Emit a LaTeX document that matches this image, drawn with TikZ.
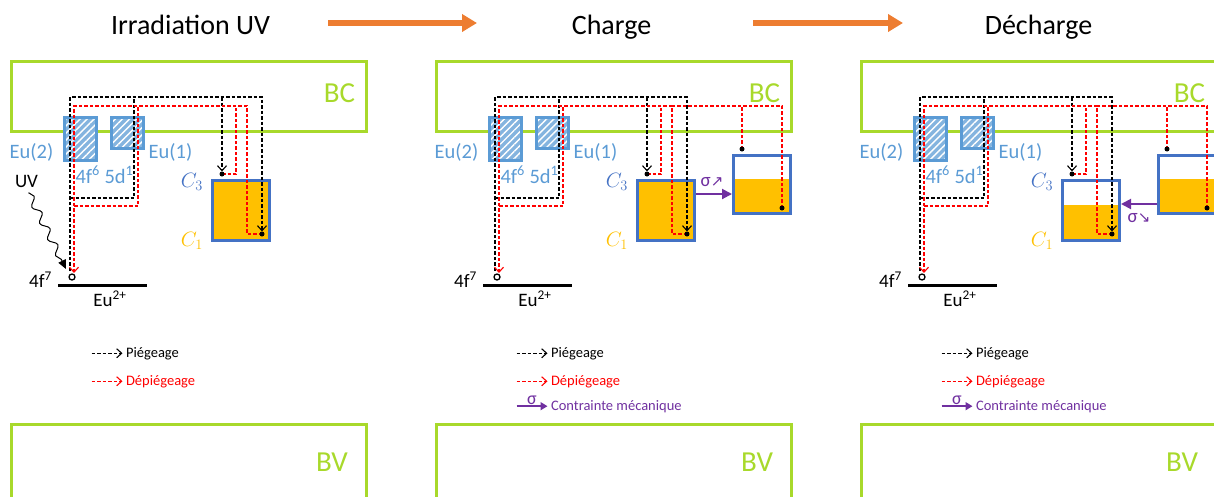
\documentclass[tikz,border=0pt]{standalone}
\usepackage{fontspec}
\setmainfont{Carlito}
\newfontfamily\dejavu{DejaVu Sans}
\usepackage{tikz}
\usetikzlibrary{arrows.meta, calc, patterns.meta, decorations.pathmorphing}

\definecolor{bandgreen}{HTML}{A8D92B}
\definecolor{eublue}{HTML}{5B9BD5}
\definecolor{trapblue}{HTML}{4472C4}
\definecolor{trapfill}{HTML}{FFC000}
\definecolor{stresspurple}{HTML}{7030A0}
\definecolor{steporange}{HTML}{ED7D31}

\tikzset{
  title/.style={anchor=base, font=\fontsize{28}{30}\selectfont},
  band/.style={draw=bandgreen, line width=3pt},
  bandtext/.style={anchor=base, text=bandgreen, font=\fontsize{29}{30}\selectfont},
  eubox/.style={draw=eublue, line width=3pt, preaction={fill=eublue!75},
    pattern={Lines[angle=45, distance=5pt, line width=1.4pt]}, pattern color=white},
  eutext/.style={anchor=base, text=eublue, font=\fontsize{20.5}{22}\selectfont},
  leveltext/.style={anchor=base, font=\fontsize{19}{21}\selectfont},
  trap/.style={draw=trapblue, line width=3pt, minimum width=57pt,
    minimum height=60pt, inner sep=0pt},
  traptext/.style={font=\fontsize{22}{24}\selectfont},
  pieg/.style={draw=black, line width=1.1pt, dash pattern=on 3.5pt off 2pt},
  depieg/.style={pieg, draw=red},
  barb/.style={-{Straight Barb[length=5pt, width=9pt]}},
  stressarrow/.style={draw=stresspurple, line width=2pt,
    -{Triangle[length=10pt, width=10pt]}},
  stresstext/.style={text=stresspurple, font=\fontsize{19}{21}\selectfont},
  legendtext/.style={anchor=base west, font=\fontsize{14.5}{16}\selectfont},
}

\begin{document}
\begin{tikzpicture}[x=1pt, y=-1pt]
  \clip (0,0) rectangle (1214,496);

  % ===================================================
  % 1. TITLES AND STEP ARROWS
  % ===================================================
  \node[title] (irr) at (190.5,34) {Irradiation UV};
  \node[title] (cha) at (611.5,34) {Charge};
  \node[title] (dec) at (1038.5,34) {Décharge};

  \coordinate (step1a) at (328,23);
  \coordinate (step1b) at (477,23);
  \coordinate (step2a) at (753,23);
  \coordinate (step2b) at (903,23);
  \draw[steporange, line width=6pt, -{Triangle[length=15pt, width=17pt]}] (step1a) -- (step1b);
  \draw[steporange, line width=6pt, -{Triangle[length=15pt, width=17pt]}] (step2a) -- (step2b);

  % ===================================================
  % 2. COMMON PART OF EACH PANEL
  % ===================================================
  \foreach \p/\dx/\lvl in {1/0/180.5, 2/425/180.5, 3/850/205}{
    \begin{scope}[xshift=\dx]
      % bands
      \draw[band] (11.5,61.5) rectangle (366.5,131.5);
      \node[bandtext] (bc\p) at (339.5,102) {BC};
      \draw[band] (11.5,424.5) rectangle (366.5,510);
      \node[bandtext] (bv\p) at (332,471) {BV};

      % Eu sites
      \path[eubox] (64.5,117.5) rectangle (96.5,160.5);
      \path[eubox] (111.5,117.5) rectangle (143.5,148.5);
      \node[eutext] (eutwo\p) at (31.5,158) {Eu(2)};
      \node[eutext] (euone\p) at (170.5,158) {Eu(1)};
      \node[eutext] (excited\p) at (104.5,183) {4f\textsuperscript{6} 5d\textsuperscript{1}};

      % ground level
      \draw[line width=3pt] (58,285) -- (147,285);
      \coordinate (gs\p) at (72,277);
      \draw[line width=1.3pt] (gs\p) circle (3pt);
      \node[leveltext] (fseven\p) at (40.5,287) {4f\textsuperscript{7}};
      \node[leveltext] (ion\p) at (110,306) {Eu\textsuperscript{2+}};

      % trap
      \fill[trapfill] (212.5,\lvl) rectangle (269.5,240.5);
      \node[trap] (cbox\p) at (241,210.5) {};
      \node[traptext, text=trapblue] (cthree\p) at (192,182) {$C_3$};
      \node[traptext, text=trapfill] (cone\p) at (192,241) {$C_1$};
      \coordinate (c3dot\p) at (222,174);
      \coordinate (c1dot\p) at (262,234);

      % piegeage
      \coordinate (rail\p) at (70,97);
      \coordinate (loop\p) at (134,198);
      \draw[pieg, barb, shorten >=2.5pt] ($(gs\p)+(-2,-6)$) -- (rail\p)
        -- (rail\p -| c1dot\p) -- (c1dot\p);
      \draw[pieg, barb, shorten >=2.5pt] (rail\p -| c3dot\p) -- (c3dot\p);
      \draw[pieg] (rail\p |- loop\p) -| (rail\p -| loop\p);

      % depiegeage
      \coordinate (rrail\p) at (74,106);
      \coordinate (rloop\p) at (138,206);
      \draw[depieg, barb] (c1dot\p) -- ++(-15,0) |- (rrail\p) -- ($(gs\p)+(2,-4)$);
      \draw[depieg] (c3dot\p) -- ++(14,0) -- ++(0,-68);
      \draw[depieg] (rrail\p |- rloop\p) -| (rrail\p -| rloop\p);

      \fill (c3dot\p) circle (2.5pt);
      \fill (c1dot\p) circle (2.5pt);

      % legend
      \node[legendtext] (lpieg\p) at (122.5,357) {Piégeage};
      \node[legendtext, text=red] (ldepieg\p) at (122.5,385) {Dépiégeage};
      \draw[pieg, barb] ($(lpieg\p.west)+(-31,0)$) -- (lpieg\p.west);
      \draw[depieg, barb] ($(ldepieg\p.west)+(-31,0)$) -- (ldepieg\p.west);
    \end{scope}
  }

  % UV excitation
  \node[leveltext] (uv) at (26.5,187) {UV};
  \draw[-{Triangle[length=9pt, width=8pt]}, line width=1pt,
    decorate, decoration={snake, amplitude=3.5pt, segment length=18pt, post length=9pt}]
    (uv.south) ++(2,2) -- ($(gs1)+(-6,-8)$);

  % ===================================================
  % 3. CHARGE : TRAP UNDER STRESS
  % ===================================================
  \begin{scope}[xshift=425]
    \fill[trapfill] (308.5,178.5) rectangle (365.5,213.5);
    \node[trap, minimum height=58pt] (rbox2) at (337,184.5) {};
    \coordinate (rtop2) at (317,149);
    \coordinate (rbot2) at (357,208);
    \draw[depieg] (rbot2) -- ++(0,-102) -- ++(-110,0);
    \draw[depieg] (rtop2) -- ++(0,-43);
    \fill (rtop2) circle (2.5pt);
    \fill (rbot2) circle (2.5pt);

    \coordinate (push2) at (0,194);
    \draw[stressarrow] (cbox2.east |- push2) -- (rbox2.west |- push2);
    \node[stresstext] (sig2) at (287,182) {σ{\dejavu\fontsize{15}{17}\selectfont ↗}};

    \node[legendtext, text=stresspurple] (lcm2) at (122.5,410) {Contrainte mécanique};
    \draw[stressarrow, line width=1.5pt, -{Triangle[length=7pt, width=8pt]}]
      ($(lcm2.west)+(-31,0)$) -- node[stresstext, above=-3pt, font=\fontsize{18}{20}\selectfont] (lsig2) {σ} (lcm2.west);
  \end{scope}

  % ===================================================
  % 4. DECHARGE : STRESS RELEASED
  % ===================================================
  \begin{scope}[xshift=850]
    \fill[trapfill] (308.5,178.5) rectangle (365.5,213.5);
    \node[trap, minimum height=58pt] (rbox3) at (337,184.5) {};
    \coordinate (rtop3) at (317,149);
    \coordinate (rbot3) at (357,208);
    \draw[depieg] (rbot3) -- ++(0,-102) -- ++(-110,0);
    \draw[depieg] (rtop3) -- ++(0,-43);
    \fill (rtop3) circle (2.5pt);
    \fill (rbot3) circle (2.5pt);

    \coordinate (push3) at (0,204);
    \draw[stressarrow] (rbox3.west |- push3) -- (cbox3.east |- push3);
    \node[stresstext] (sig3) at (289,218) {σ{\dejavu\fontsize{15}{17}\selectfont ↘}};

    \node[legendtext, text=stresspurple] (lcm3) at (122.5,410) {Contrainte mécanique};
    \draw[stressarrow, line width=1.5pt, -{Triangle[length=7pt, width=8pt]}]
      ($(lcm3.west)+(-31,0)$) -- node[stresstext, above=-3pt, font=\fontsize{18}{20}\selectfont] (lsig3) {σ} (lcm3.west);
  \end{scope}
\end{tikzpicture}
\end{document}
